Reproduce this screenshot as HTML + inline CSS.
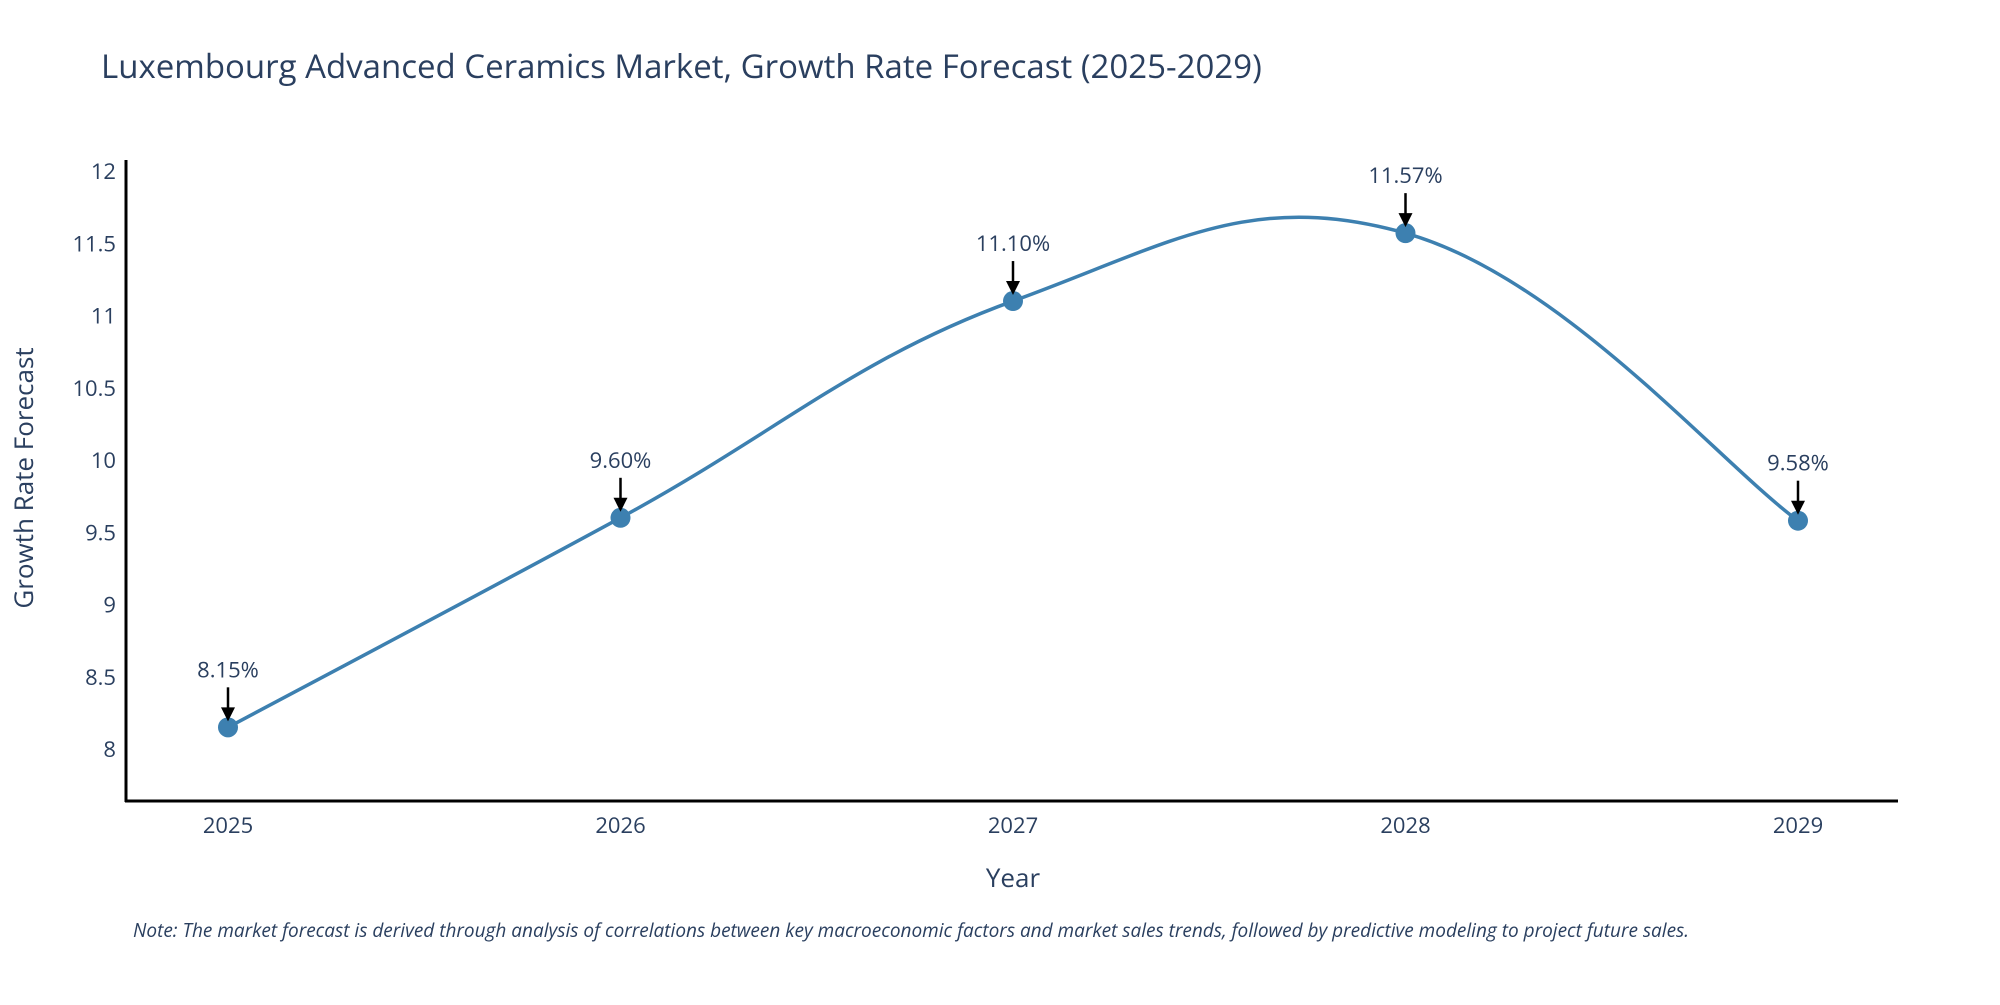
<!DOCTYPE html>
<html><head><meta charset="utf-8"><style>
body{margin:0;background:#fff;font-family:"Open Sans","Liberation Sans",sans-serif}
svg text{font-family:"Open Sans","Liberation Sans",sans-serif}
</style></head><body>
<svg id="chart" width="2000" height="1000" xmlns="http://www.w3.org/2000/svg">
<text x="101" y="78" font-size="33" fill="#2a3f5f">Luxembourg Advanced Ceramics Market, Growth Rate Forecast (2025-2029)</text>
<g id="yticks"></g>
<g id="xticks"></g>
<line x1="126" y1="160" x2="126" y2="802" stroke="#000" stroke-width="3"/>
<line x1="125" y1="801" x2="1898" y2="801" stroke="#000" stroke-width="3"/>
<text transform="translate(33,478) rotate(-90)" text-anchor="middle" font-size="26" fill="#2a3f5f">Growth Rate Forecast</text>
<text x="1013" y="887" text-anchor="middle" font-size="26" fill="#2a3f5f">Year</text>
<g id="series"></g>
<text x="133" y="937" font-size="19" font-style="italic" fill="#2a3f5f">Note: The market forecast is derived through analysis of correlations between key macroeconomic factors and market sales trends, followed by predictive modeling to project future sales.</text>
</svg>
<script>
const years=[2025,2026,2027,2028,2029];
const values=[8.15,9.60,11.10,11.57,9.58];
const labels=["8.15%","9.60%","11.10%","11.57%","9.58%"];
const yTicks=[8,8.5,9,9.5,10,10.5,11,11.5,12];
const yTickLabels=["8","8.5","9","9.5","10","10.5","11","11.5","12"];
const NS="http://www.w3.org/2000/svg";
function xs(v){return 228+(v-2025)*392.5;}
function ys(v){return 749-(v-8)*144.5;}
function mk(t,a,p){const e=document.createElementNS(NS,t);for(const k in a)e.setAttribute(k,a[k]);p.appendChild(e);return e;}
const yt=document.getElementById('yticks');
yTicks.forEach((v,i)=>{const t=mk('text',{x:116,y:ys(v)+8,'text-anchor':'end','font-size':22,fill:'#2a3f5f'},yt);


t.textContent=yTickLabels[i];});
const xt=document.getElementById('xticks');
years.forEach(v=>{const t=mk('text',{x:xs(v),y:833,'text-anchor':'middle','font-size':22,fill:'#2a3f5f'},xt);


t.textContent=v;});
const s=document.getElementById('series');
const P=years.map((y,i)=>[xs(y),ys(values[i])]);
let d='M'+P[0][0]+','+P[0][1];
for(let i=0;i<P.length-1;i++){const p0=P[Math.max(0,i-1)],p1=P[i],p2=P[i+1],p3=P[Math.min(P.length-1,i+2)];const k=1/5;
d+=' C'+(p1[0]+(p2[0]-p0[0])*k)+','+(p1[1]+(p2[1]-p0[1])*k)+' '+(p2[0]-(p3[0]-p1[0])*k)+','+(p2[1]-(p3[1]-p1[1])*k)+' '+p2[0]+','+p2[1];}
const ln=mk('path',{d:d,fill:'none',stroke:'#3d80b0',"stroke-width":3.5},s);


P.forEach((p,i)=>{const c=mk('circle',{cx:p[0],cy:p[1],r:10,fill:'#3d80b0'},s);


const a=mk('line',{x1:p[0],y1:p[1]-40,x2:p[0],y2:p[1]-18,stroke:'#000','stroke-width':2.5},s);


const h=mk('polygon',{points:(p[0]-7)+','+(p[1]-20)+' '+(p[0]+7)+','+(p[1]-20)+' '+p[0]+','+(p[1]-6),fill:'#000'},s);


const t=mk('text',{x:p[0],y:p[1]-50,'text-anchor':'middle','font-size':22,fill:'#2a3f5f'},s);


t.textContent=labels[i];});
</script>
</body></html>
